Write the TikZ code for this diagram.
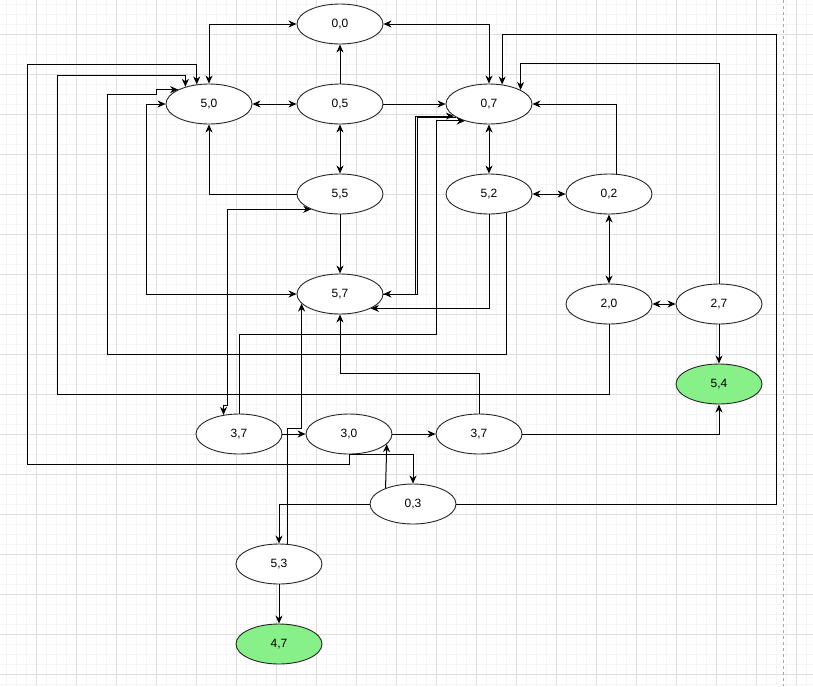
\documentclass[tikz,border=0pt]{standalone}
\usepackage{fontspec}
\setmainfont{Liberation Sans}
\usepackage{xcolor}
\usepackage{tikz}
\usetikzlibrary{shapes.geometric}
\usetikzlibrary{arrows.meta}
\definecolor{gridmin}{RGB}{245,245,245}
\definecolor{gridmaj}{RGB}{222,222,222}
\definecolor{goal}{RGB}{136,240,136}

\begin{document}
\begin{tikzpicture}[x=1pt,y=-1pt,line width=1pt,
		>={Stealth[length=8pt,width=7pt,inset=2.5pt]},
		st/.style={ellipse,draw=black!85,line width=0.9pt,fill=white,minimum width=86pt,minimum height=40pt,inner sep=0pt,font=\fontsize{12}{14}\selectfont},
		goalst/.style={st,fill=goal}]
		\useasboundingbox (0,0) rectangle (813,686);
		\fill[white] (0,0) rectangle (813,686);
		% grid
		\foreach \i in {0,...,82} \draw[gridmin,line width=0.6pt] (\i*10-3.5,0) -- (\i*10-3.5,686);
		\foreach \j in {0,...,69} \draw[gridmin,line width=0.6pt] (0,\j*10+4.3) -- (813,\j*10+4.3);
		\foreach \i in {0,...,21} \draw[gridmaj,line width=0.6pt] (\i*40-3.5,0) -- (\i*40-3.5,686);
		\foreach \j in {0,...,18} \draw[gridmaj,line width=0.6pt] (0,\j*40-5.7) -- (813,\j*40-5.7);
		\draw[black!35,dashed,line width=0.7pt] (783,0) -- (783,686);
		% states
		\node[st] (n00) at (340,24) {0,0};
		\node[st] (n50) at (209,104) {5,0};
		\node[st] (n05) at (340,104) {0,5};
		\node[st] (n07) at (489,104) {0,7};
		\node[st] (n55) at (340,194) {5,5};
		\node[st] (n52) at (489,194) {5,2};
		\node[st] (n02) at (609,194) {0,2};
		\node[st] (n57) at (340,294) {5,7};
		\node[st] (n20) at (609,304) {2,0};
		\node[st] (n27) at (719,304) {2,7};
		\node[goalst] (n54) at (719,384) {5,4};
		\node[st] (n37a) at (239,434) {3,7};
		\node[st] (n30) at (349,434) {3,0};
		\node[st] (n37b) at (479,434) {3,7};
		\node[st] (n03) at (413,504) {0,3};
		\node[st] (n53) at (279,564) {5,3};
		\node[goalst] (n47) at (279,644) {4,7};
		% moves
		\draw[<->] (n50.north) |- (n00.west);
		\draw[<->] (n00.east) -| (n07.north);
		\draw[->] (n05.north) -- (n00.south);
		\draw[<->] (n50.east) -- (n05.west);
		\draw[->] (n05.east) -- (n07.west);
		\draw[<->] (n05.south) -- (n55.north);
		\draw[->] (n55.west) -| (n50.south);
		\draw[->] (n55.south) -- (n57.north);
		\draw[<->] (n07.south) -- (n52.north);
		\draw[<->] (n52.east) -- (n02.west);
		\draw[->] (n02.70) |- (n07.east);
		\draw[<->] (n02.south) -- (n20.north);
		\draw[<->] (n20.east) -- (n27.west);
		\draw[->] (n27.south) -- (n54.north);
		\draw[->] (n27.north) -- ++(0,-220) -| (n07.24);
		\draw[->] (n03.east) -| (776,34) -| (n07.56);
		\draw[->] (n30.south) -- ++(0,10) -| (27,64) -| (n50.122);
		\draw[->] (n20.south) -- ++(0,70) -| (57,75) -| (n50.144);
		\draw[->] (n52.313) -- ++(0,142) -| (107,94) -- (156,94) |- (n50.155);
		\draw[<->] (n50.west) -- ++(-19,0) |- (n57.west);
		\draw[->] (n57.east) -- ++(32,0) |- (n07.199);
		\draw[->] (n07.202) -| ([xshift=34pt]n57.east) -- (n57.east);
		\draw[->] (n52.south) |- (n57.335);
		\draw[->] (n37a.north) |- (436,334) |- (n07.215);
		\draw[->] (n37b.north) -- ++(0,-40) -| (n57.south);
		\draw[<->] (n55.208) -| (227,405) -| (n37a.129);
		\draw[->] (n37a.east) -- (n30.west);
		\draw[->] (n53.68) -- ++(0,-115) -| (n57.194);
		\draw[->] (n03.west) -| (n53.north);
		\draw[->] (n30.south) -| (n03.north);
		\draw[->] (n03.150) -- (n30.345);
		\draw[->] (n30.east) -- (n37b.west);
		\draw[->] (n37b.east) -| (n54.south);
		\draw[->] (n53.south) -- (n47.north);
	\end{tikzpicture}
\end{document}
